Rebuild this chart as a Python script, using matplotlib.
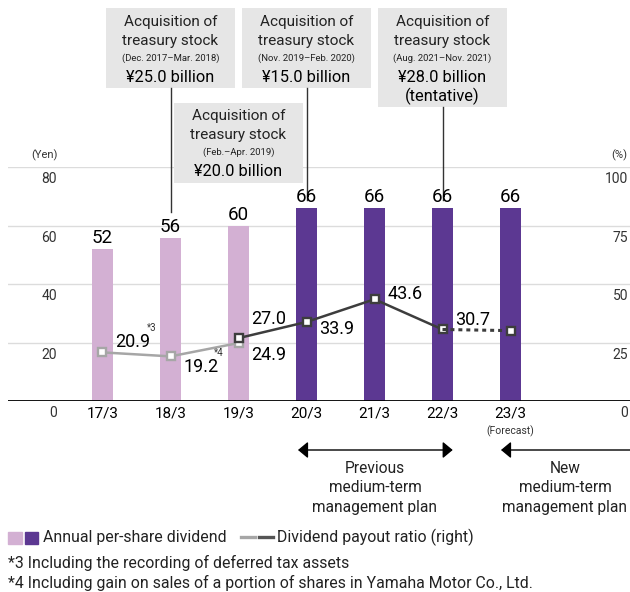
import matplotlib.pyplot as plt
from matplotlib.patches import Rectangle
from matplotlib.lines import Line2D

plt.rcParams['font.family'] = ['Roboto', 'DejaVu Sans']

# ---- data -------------------------------------------------------------
periods = ['17/3', '18/3', '19/3', '20/3', '21/3', '22/3', '23/3']
dividend = [52, 56, 60, 66, 66, 66, 66]          # yen per share
n_prev_policy = 3                                 # light bars: 17/3-19/3
payout_old = [20.9, 19.2, 24.9]                   # %, 17/3-19/3
payout_new = [27.0, 33.9, 43.6, 30.7]             # %, 19/3-22/3
payout_forecast = [30.7, 30.2]                    # %, 22/3-23/3 (forecast)

yen_ticks = [0, 20, 40, 60, 80]
pct_ticks = [0, 25, 50, 75, 100]

buyback_bar = [1, 3, 2, 5]
buyback_period = ['(Dec. 2017–Mar. 2018)', '(Nov. 2019–Feb. 2020)',
                  '(Feb.–Apr. 2019)', '(Aug. 2021–Nov. 2021)']
buyback_amount = ['¥25.0 billion', '¥15.0 billion', '¥20.0 billion',
                  '¥28.0 billion\n(tentative)']

# ---- layout helpers (pixel layout of the original) ----------------------
W, H = 630, 592
X0, DX = 102.5, 68.0        # px of first bar centre, bar pitch
Y0, PPY = 401.3, 2.925      # px of zero line, px per yen
PT = 0.72                   # px -> points at dpi 100

PINK = '#d3b0d3'
PURPLE = '#5c3892'
GREY = '#a6a6a6'
DARK = '#3d3d3d'
TXT = '#222222'


def dy(py):
    return (Y0 - py) / PPY


def dx(px):
    return (px - X0) / DX


fig = plt.figure(figsize=(W / 100, H / 100), dpi=100)
ax = fig.add_axes([8 / W, 1 - Y0 / H, 622 / W, 80 * PPY / H])
ax.set_xlim(dx(8), dx(630))
ax.set_ylim(0, 80)
for s in ax.spines.values():
    s.set_visible(False)

# bars
colors = [PINK] * n_prev_policy + [PURPLE] * (len(periods) - n_prev_policy)
xs = list(range(len(periods)))
ax.bar(xs, dividend, width=21 / DX, color=colors, zorder=2)
for i, v in zip(xs, dividend):
    ax.annotate(str(v), (i, v), xytext=(0, 11 * PT), textcoords='offset points',
                ha='center', va='center', fontsize=13.5, color='black')

# grid + axes
ax.set_yticks(yen_ticks)
ax.set_yticklabels([''] * len(yen_ticks))
ax.yaxis.grid(True, color='#dcdcdc', lw=1)
ax.set_axisbelow(True)
ax.axhline(0, color='black', lw=1.3, zorder=3)
ax.tick_params(axis='y', length=0)
ax.set_xticks(xs)
ax.set_xticklabels(periods)
ax.tick_params(axis='x', length=0, pad=4, labelsize=11, labelcolor='black')
for v in yen_ticks:
    ax.annotate(str(v), xy=(0, v), xycoords=('axes fraction', 'data'),
                xytext=(49 * PT, -12 * PT), textcoords='offset points',
                ha='right', va='center', fontsize=10, color='#333333')
ax.annotate('(Forecast)', (6, 0), xytext=(0, -29.5 * PT), textcoords='offset points',
            ha='center', va='center', fontsize=7.5, color='#333333')
ax.text(dx(44), dy(155.7), '(Yen)', ha='center', va='center', fontsize=8, color='#333333')
ax.text(dx(627), dy(155.7), '(%)', ha='right', va='center', fontsize=8, color='#333333')

# payout ratio on right axis
ax2 = ax.twinx()
ax2.set_ylim(0, 100)
for s in ax2.spines.values():
    s.set_visible(False)
ax2.set_yticks(pct_ticks)
ax2.set_yticklabels([''] * len(pct_ticks))
ax2.tick_params(axis='y', length=0)
for v in pct_ticks:
    ax2.annotate(str(v), xy=(1, v), xycoords=('axes fraction', 'data'),
                 xytext=(-2 * PT, -12 * PT), textcoords='offset points',
                 ha='right', va='center', fontsize=10, color='#333333')

mk = dict(marker='s', ms=5.5, mfc='white', mew=1.7)
ax2.plot(xs[:3], payout_old, color=GREY, lw=1.8, mec=GREY, **mk)
ax2.plot(xs[2:6], payout_new, color=DARK, lw=1.8, mec=DARK, **mk)
ax2.plot(xs[5:7], payout_forecast, color=DARK, lw=2.2, ls=(0, (1.3, 1.3)),
         mec=DARK, markevery=[1], **mk)

old_off = [(30.5, 10.6), (30.5, -10.3), (30, -12)]
new_off = [(30, 19), (30, -7.3), (30.5, 5.3), (30, 9.3)]
for i, v, (ox, oy) in zip(xs[:3], payout_old, old_off):
    ax2.annotate(f'{v:.1f}', (i, v), xytext=(ox * PT, oy * PT), textcoords='offset points',
                 ha='center', va='center', fontsize=13, color='black')
for i, v, (ox, oy) in zip(xs[2:6], payout_new, new_off):
    ax2.annotate(f'{v:.1f}', (i, v), xytext=(ox * PT, oy * PT), textcoords='offset points',
                 ha='center', va='center', fontsize=13, color='black')
ax2.annotate('*3', (0, payout_old[0]), xytext=(49.5 * PT, 24.3 * PT), textcoords='offset points',
             ha='center', va='center', fontsize=7, color='#333333')
ax2.annotate('*4', (2, payout_old[2]), xytext=(-19.5 * PT, -9.7 * PT), textcoords='offset points',
             ha='center', va='center', fontsize=7, color='#333333')

# treasury stock call-outs
box_top = [8.3, 8.3, 102.7, 8.3]
box_bottom = [87.7, 87.7, 182.7, 106.7]
line_end = [211.7, 200, None, 200]
half_w = 64.5 / DX
for idx, per, amt, top, bot, end in zip(buyback_bar, buyback_period, buyback_amount,
                                        box_top, box_bottom, line_end):
    ax.add_patch(Rectangle((idx - half_w, dy(bot)), 2 * half_w, dy(top) - dy(bot),
                           fc='#e6e6e6', ec='none', clip_on=False, zorder=1))
    ax.text(idx, dy(top + 13.4), 'Acquisition of', ha='center', va='center',
            fontsize=11, color=TXT)
    ax.text(idx, dy(top + 32.4), 'treasury stock', ha='center', va='center',
            fontsize=11, color=TXT)
    ax.text(idx, dy(top + 50), per, ha='center', va='center', fontsize=6.8, color=TXT)
    for k, line in enumerate(amt.split('\n')):
        ax.text(idx, dy(top + 69 + 18.7 * k), line, ha='center', va='center',
                fontsize=11.8, color='black')
    if end is not None:
        ax.plot([idx, idx], [dy(bot), dy(end)], color='#333333', lw=1, clip_on=False)

# medium-term plan arrows
arr = dict(arrowstyle='<|-|>,head_length=0.6,head_width=0.5', color='black',
           lw=1, shrinkA=0, shrinkB=0)
ax.annotate('', xy=(dx(452.7), dy(450)), xytext=(dx(298), dy(450)),
            arrowprops=arr, annotation_clip=False)
arr1 = dict(arr, arrowstyle='<|-,head_length=0.6,head_width=0.5')
ax.annotate('', xy=(dx(630), dy(450)), xytext=(dx(501), dy(450)),
            arrowprops=arr1, annotation_clip=False)
ax.text(dx(375), dy(488), 'Previous\nmedium-term\nmanagement plan', ha='center',
        va='center', fontsize=11.2, color=TXT, linespacing=1.4)
ax.text(dx(565), dy(488), 'New\nmedium-term\nmanagement plan', ha='center',
        va='center', fontsize=11.2, color=TXT, linespacing=1.4)

# legend
fig.add_artist(Rectangle((8.3 / W, 1 - 544 / H), 13.4 / W, 12.3 / H,
                         transform=fig.transFigure, color=PINK))
fig.add_artist(Rectangle((25 / W, 1 - 544 / H), 13.4 / W, 12.3 / H,
                         transform=fig.transFigure, color=PURPLE))
fig.text(43.3 / W, 1 - 537.3 / H, 'Annual per-share dividend', ha='left', va='center',
         fontsize=11.4, color=TXT)
fig.add_artist(Line2D([240.7 / W, 255 / W], [1 - 537.3 / H] * 2, color=GREY, lw=2.4))
fig.add_artist(Line2D([259.3 / W, 273.3 / W], [1 - 537.3 / H] * 2, color='#555555', lw=2.4))
fig.text(277.3 / W, 1 - 537.3 / H, 'Dividend payout ratio (right)', ha='left', va='center',
         fontsize=11.4, color=TXT)

# footnotes
fig.text(8.3 / W, 1 - 562.7 / H, '*3 Including the recording of deferred tax assets',
         ha='left', va='center', fontsize=11.4, color=TXT)
fig.text(8.3 / W, 1 - 583.3 / H,
         '*4 Including gain on sales of a portion of shares in Yamaha Motor Co., Ltd.',
         ha='left', va='center', fontsize=11.4, color=TXT)

fig.savefig('out.png', dpi=100)
